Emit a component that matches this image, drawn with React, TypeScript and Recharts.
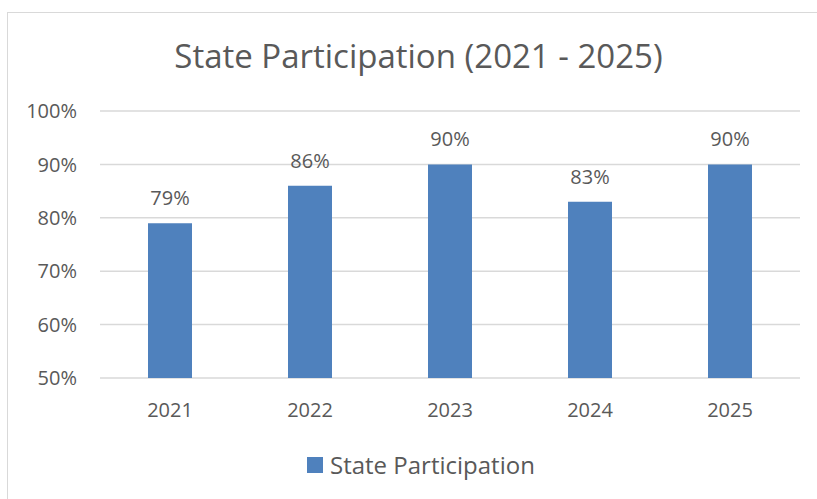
import { BarChart, Bar, XAxis, YAxis, CartesianGrid, Legend, LabelList } from 'recharts';

const years = ['2021', '2022', '2023', '2024', '2025'];
const participation = [79, 86, 90, 83, 90];
const yTicks = [50, 60, 70, 80, 90, 100];

const TEXT = '#595959';
const BAR = '#4f81bd';
const FONT = '"Open Sans", sans-serif';

const chartData = years.map((year, i) => ({ year, value: participation[i] }));

const LegendContent = () => (
  <div style={{ position: 'absolute', left: 307, top: 0, display: 'flex', alignItems: 'center', height: 24 }}>
    <div style={{ width: 16, height: 16, background: BAR }} />
    <span style={{ marginLeft: 7, fontSize: 24, lineHeight: '24px', color: TEXT, fontFamily: FONT }}>
      State Participation
    </span>
  </div>
);

export default function App() {
  return (
    <div style={{ position: 'absolute', left: 0, top: 0, width: 817, height: 499, overflow: 'hidden', background: '#fff' }}>
      {/* chart frame, right and bottom edges are cut off */}
      <div style={{ position: 'absolute', left: 7, top: 12, width: 900, height: 600, border: '1px solid #d9d9d9' }} />
      <svg width={817} height={499} style={{ position: 'absolute', left: 0, top: 0 }}>
        <text x={418.5} y={68} textAnchor="middle" fontSize={33} fill={TEXT} fontFamily={FONT}>
          State Participation (2021 - 2025)
        </text>
      </svg>
      <div style={{ position: 'absolute', left: 0, top: 0 }}>
        <BarChart width={817} height={499} data={chartData} margin={{ top: 111, right: 17, bottom: 91, left: 40 }}>
          <CartesianGrid vertical={false} stroke="#d9d9d9" strokeWidth={1.5} />
          <XAxis
            dataKey="year"
            height={30}
            axisLine={false}
            tickLine={false}
            tickSize={0}
            tickMargin={25}
            tick={{ fill: TEXT, fontSize: 20, fontFamily: FONT }}
          />
          <YAxis
            width={60}
            domain={[50, 100]}
            ticks={yTicks}
            tickFormatter={(v: number) => `${v}%`}
            axisLine={false}
            tickLine={false}
            tickSize={0}
            tickMargin={23}
            tick={{ fill: TEXT, fontSize: 20, fontFamily: FONT }}
          />
          <Legend
            verticalAlign="middle"
            content={<LegendContent />}
            wrapperStyle={{ top: 453, left: 0, width: 817, height: 24 }}
          />
          <Bar dataKey="value" name="State Participation" fill={BAR} barSize={44} isAnimationActive={false}>
            <LabelList
              dataKey="value"
              position="top"
              offset={18}
              formatter={(v: number) => `${v}%`}
              style={{ fill: TEXT, fontSize: 20, fontFamily: FONT }}
            />
          </Bar>
        </BarChart>
      </div>
    </div>
  );
}
